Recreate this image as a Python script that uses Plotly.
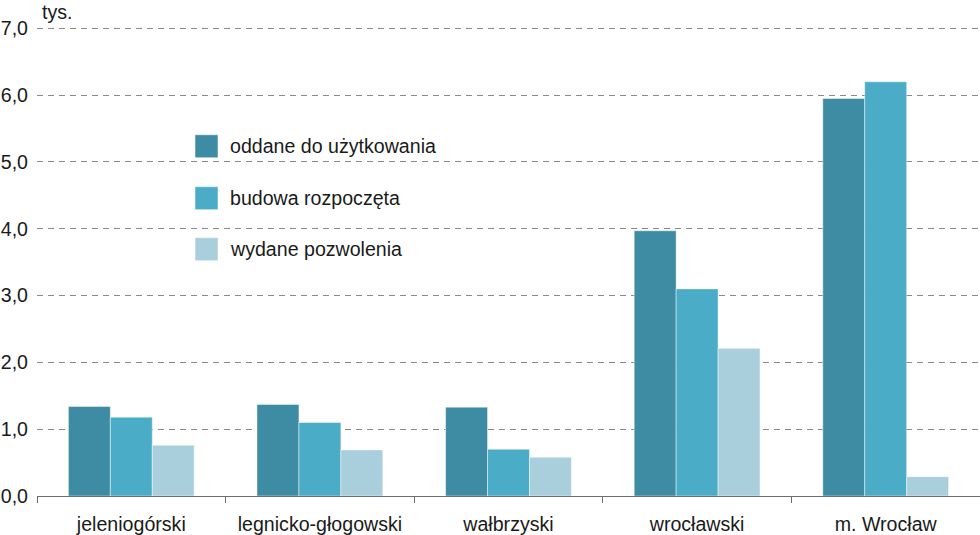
import plotly.graph_objects as go

categories = ["jeleniogórski", "legnicko-głogowski", "wałbrzyski", "wrocławski", "m. Wrocław"]
series_names = ["oddane do użytkowania", "budowa rozpoczęta", "wydane pozwolenia"]
oddane = [1.34, 1.37, 1.33, 3.97, 5.95]
budowa = [1.18, 1.10, 0.70, 3.10, 6.20]
pozwolenia = [0.76, 0.69, 0.58, 2.21, 0.29]
colors = ["#3d8ca3", "#4bacc7", "#a9cfdd"]
y_ticks = [0, 1, 2, 3, 4, 5, 6, 7]
y_tick_labels = ["0,0", "1,0", "2,0", "3,0", "4,0", "5,0", "6,0", "7,0"]

FONT = "Liberation Sans, Arial, sans-serif"
FS = 19.6
YMAX = 7.02
PLOT_TOP = 496 - YMAX * (468 / 7)
PLOT_H = 496 - PLOT_TOP

fig = go.Figure()
for name, vals, col in zip(series_names, [oddane, budowa, pozwolenia], colors):
    fig.add_trace(go.Bar(
        x=categories, y=vals, name=name,
        marker=dict(color=col, line=dict(color="rgba(255,255,255,0.45)", width=1)),
        showlegend=False,
    ))

# custom legend with larger swatches
leg_x0 = 195
leg_y = [146, 198, 249]
for name, col, yy in zip(series_names, colors, leg_y):
    fig.add_shape(type="rect", xref="paper", yref="paper",
                  x0=(leg_x0 - 37) / 943, x1=(leg_x0 + 23 - 37) / 943,
                  y0=(496 - (yy + 11.5)) / PLOT_H, y1=(496 - (yy - 11.5)) / PLOT_H,
                  fillcolor=col, line=dict(color="rgba(255,255,255,0.5)", width=1))
    fig.add_annotation(xref="paper", yref="paper",
                       x=(leg_x0 + 33 - 37) / 943, y=(496 - yy) / PLOT_H,
                       text=name, showarrow=False, xanchor="left", yanchor="middle",
                       font=dict(family=FONT, size=FS, color="#1a1a1a"))

fig.add_annotation(xref="paper", yref="paper", x=(40 - 37) / 943, y=(496 - 12) / PLOT_H,
                   text="tys.", showarrow=False,
                   xanchor="left", yanchor="middle",
                   font=dict(family=FONT, size=FS, color="#1a1a1a"))

fig.update_layout(
    width=980, height=535,
    margin=dict(l=37, r=0, t=PLOT_TOP, b=39),
    paper_bgcolor="white", plot_bgcolor="white",
    barmode="group", bargap=0.333, bargroupgap=0,
    font=dict(family=FONT, size=FS, color="#1a1a1a"),
    xaxis=dict(
        showline=True, linecolor="#6e6e6e", linewidth=1.2,
        ticks="outside", tickson="boundaries", ticklen=6, tickcolor="#6e6e6e",
        tickfont=dict(family=FONT, size=FS, color="#1a1a1a"),
        ticklabelstandoff=10,
        showgrid=False,
    ),
    yaxis=dict(
        range=[0, YMAX], tickvals=y_ticks, ticktext=y_tick_labels,
        showgrid=True, gridcolor="#8a8a8a", gridwidth=1, griddash="6px,5px",
        zeroline=False, showline=False, ticks="",
        ticklabelstandoff=8,
        tickfont=dict(family=FONT, size=FS, color="#1a1a1a"),
    ),
)

fig.write_html("out.html")
